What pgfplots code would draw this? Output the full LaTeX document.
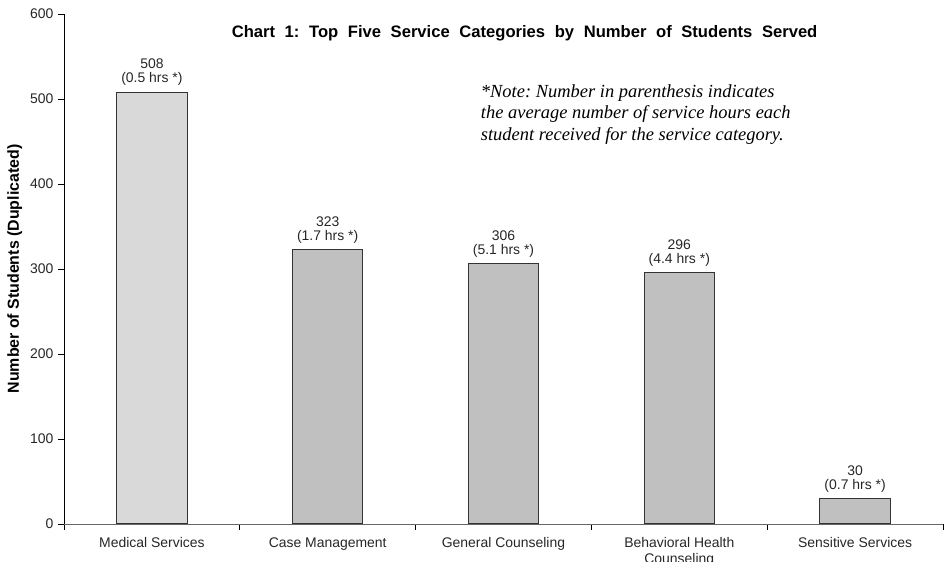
\documentclass[border=0pt]{standalone}
\usepackage{pgfplots}
\pgfplotsset{compat=1.18}
\usepackage{fontspec}
\setmainfont{Liberation Sans}
\newfontfamily\noteserif{Liberation Serif}
\definecolor{barlight}{HTML}{D9D9D9}
\definecolor{bardark}{HTML}{C0C0C0}
\definecolor{edge}{HTML}{333333}
\frenchspacing

\begin{document}
\begin{tikzpicture}
\begin{axis}[
  scale only axis,
  width=659.25bp, height=382.5bp,
  xmin=-0.5, xmax=4.5, ymin=0, ymax=600,
  ytick={0,100,...,600},
  xtick={-0.5,0.5,...,4.5},
  x tick label as interval,
  xticklabels={Medical Services,Case Management,General Counseling,Behavioral Health\\Counseling,Sensitive Services},
  axis lines*=left,
  axis line style={-},
  x axis line style={gray!80!black},
  y axis line style={black},
  tick align=outside,
  major tick length=4.5bp,
  tick style={black, line width=0.6bp},
  /pgf/number format/assume math mode=true,
  tick label style={font=\fontsize{10.5}{12}\selectfont, text=black!85},
  x tick label style={align=center, yshift=-2bp},
  ylabel={\bfseries Number of Students (Duplicated)},
  ylabel style={font=\fontsize{12}{13}\selectfont, yshift=-1bp},
  ybar, bar width=0.4, bar shift=0pt,
  visualization depends on={value \thisrow{hrs} \as \hrs},
  point meta=y,
  nodes near coords={\pgfmathprintnumber{\pgfplotspointmeta}\\(\hrs\ hrs *)},
  every node near coord/.append style={align=center, font=\fontsize{10.5}{10.5}\selectfont, text=black!85, inner sep=4.5bp},
]
\addplot[fill=barlight, draw=edge, line width=0.75bp] table[x=x, y=n] {
x n hrs
0 508 0.5
};
\addplot[fill=bardark, draw=edge, line width=0.75bp] table[x=x, y=n] {
x n hrs
1 323 1.7
2 306 5.1
3 296 4.4
4 30 0.7
};
\node[font=\fontsize{12.5}{14}\selectfont\bfseries] at (rel axis cs:0.524,0.962) {\spaceskip=7.2bp\relax Chart 1: Top Five Service Categories by Number of Students Served};
\node[anchor=north west, align=left, font=\noteserif\itshape\fontsize{13.9}{16.2}\selectfont, inner sep=0pt] at (rel axis cs:0.474,0.862) {*Note: Number in parenthesis indicates\\the average number of service hours each\\student received for the service category.};
\end{axis}
\pgfresetboundingbox
\useasboundingbox ([xshift=-48bp, yshift=-28.5bp]current axis.south west) rectangle ([xshift=4.5bp, yshift=10.5bp]current axis.north east);
\end{tikzpicture}
\end{document}
